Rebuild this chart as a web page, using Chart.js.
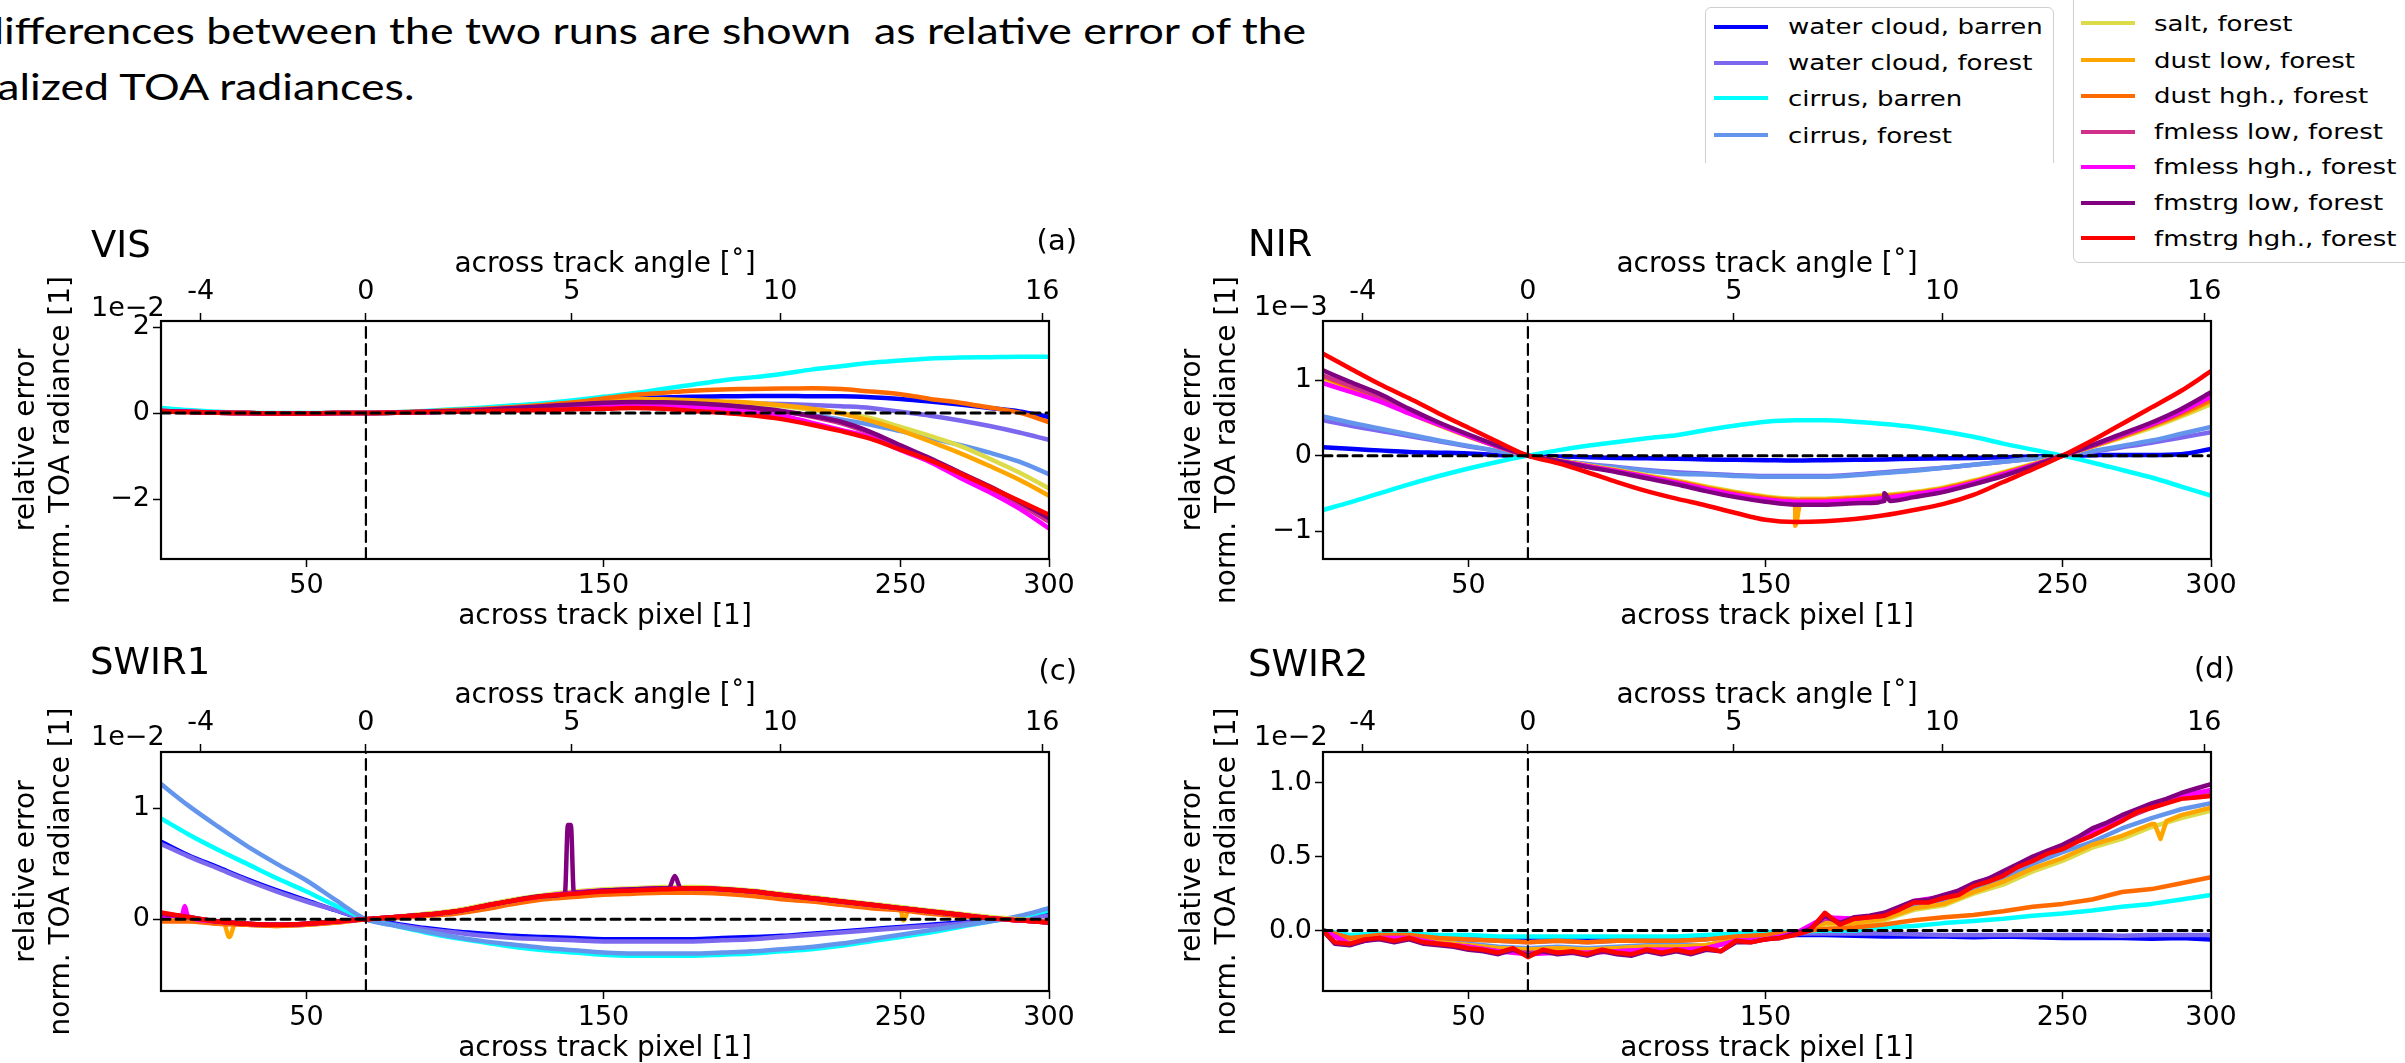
<!DOCTYPE html>
<html><head><meta charset="utf-8">
<script src="https://cdn.jsdelivr.net/npm/chart.js@4.4.1/dist/chart.umd.min.js"></script>
<style>
html,body{margin:0;padding:0;width:2405px;height:1063px;overflow:hidden;background:#fff;}
canvas{position:absolute;}
.t{position:absolute;font-family:"DejaVu Sans";color:#000;white-space:pre;line-height:1;}
.title{position:absolute;font-family:Lato,"Open Sans",sans-serif;font-size:36px;line-height:1;white-space:pre;color:#000;transform-origin:0 0;}
.lgbox{position:absolute;background:#fff;border:1.5px solid #cfcfcf;border-radius:6px;box-sizing:border-box;}
.lgline{position:absolute;height:4px;}
.lgtext{position:absolute;font-family:"DejaVu Sans";font-size:21.5px;line-height:1;white-space:pre;transform-origin:0 50%;transform:scaleX(1.21);color:#000;}
</style></head>
<body>
<script>
// ---------------- data ----------------
const seriesNames = ['water cloud, barren','water cloud, forest','cirrus, barren','cirrus, forest','salt, forest','dust low, forest','dust hgh., forest','fmless low, forest','fmless hgh., forest','fmstrg low, forest','fmstrg hgh., forest'];
const seriesColors = ['#0000ff','#7b68ee','#00ffff','#6495ed','#dcdc4a','#ffa500','#ff6a00','#d0308a','#ff00ff','#800080','#ff0000'];

const pixels = [1,10,20,30,40,50,60,70,80,90,100,110,120,130,140,150,160,170,180,190,200,210,220,230,240,250,260,270,280,290,300];
const pixels5 = [1,5,10,15,20,25,30,35,40,45,50,55,60,65,70,75,80,85,90,95,100,105,110,115,120,125,130,135,140,145,150,155,160,165,170,175,180,185,190,195,200,205,210,215,220,225,230,235,240,245,250,255,260,265,270,275,280,285,290,295,300];
const pixelTicks = [50,150,250,300];
const angleTickPixels = [14.4,70,139.3,209.5,297.7];
const angleTickLabels = ['-4','0','5','10','16'];
const angleZeroPixel = 70;

// VIS (x1e-2)
const wcBarrenA = [0.05,0.03,0.01,0,-0.01,-0.01,0,0,0.01,0.03,0.06,0.09,0.12,0.17,0.22,0.28,0.33,0.36,0.38,0.39,0.4,0.4,0.39,0.39,0.37,0.33,0.27,0.2,0.12,0.04,-0.09];
const wcForestA = [0.05,0.03,0.01,0,-0.01,-0.01,0,0,0.01,0.02,0.04,0.07,0.1,0.14,0.18,0.22,0.24,0.25,0.25,0.24,0.22,0.21,0.19,0.16,0.12,0.03,-0.06,-0.17,-0.3,-0.45,-0.62];
const cirrusBarrenA = [0.12,0.07,0.03,0.01,0,0,0,0,0.02,0.05,0.09,0.13,0.18,0.23,0.3,0.38,0.46,0.56,0.66,0.76,0.83,0.91,1.01,1.09,1.17,1.22,1.27,1.29,1.3,1.31,1.31];
const cirrusForestA = [0.05,0.03,0.01,0,-0.01,-0.01,0,0,0.01,0.02,0.04,0.07,0.1,0.13,0.17,0.2,0.22,0.2,0.15,0.1,0.06,0.02,-0.05,-0.15,-0.27,-0.42,-0.58,-0.74,-0.92,-1.13,-1.42];
const saltA = [0.05,0.03,0.01,0,-0.01,-0.01,0,0,0.01,0.03,0.06,0.09,0.13,0.18,0.24,0.29,0.31,0.3,0.28,0.24,0.2,0.16,0.08,0.0,-0.12,-0.32,-0.53,-0.76,-1.06,-1.38,-1.75];
const dustLowA = [0.05,0.03,0.01,0,-0.01,-0.01,0,0,0.01,0.03,0.06,0.09,0.13,0.18,0.24,0.3,0.33,0.32,0.3,0.27,0.24,0.18,0.1,-0.01,-0.18,-0.4,-0.66,-0.93,-1.23,-1.55,-1.92];
const dustHghA = [0.05,0.03,0.01,0,-0.01,-0.01,0,0,0.02,0.04,0.07,0.1,0.14,0.19,0.25,0.34,0.42,0.47,0.52,0.55,0.56,0.57,0.58,0.56,0.5,0.44,0.33,0.24,0.13,0.01,-0.21];
const fmlessLowA = [0.05,0.03,0.01,0,-0.01,-0.01,0,0,0.01,0.03,0.05,0.08,0.11,0.15,0.19,0.22,0.25,0.24,0.22,0.18,0.12,0.04,-0.08,-0.24,-0.48,-0.78,-1.09,-1.42,-1.76,-2.12,-2.52];
const fmlessHghA = [0.05,0.03,0.01,0,-0.01,-0.01,0,0,0.01,0.02,0.04,0.07,0.1,0.13,0.16,0.19,0.2,0.18,0.14,0.08,0.02,-0.06,-0.22,-0.39,-0.57,-0.86,-1.14,-1.5,-1.84,-2.22,-2.68];
const fmstrgLowA = [0.05,0.03,0.01,0,-0.01,-0.01,0,0,0.01,0.03,0.05,0.08,0.12,0.16,0.2,0.24,0.26,0.25,0.23,0.19,0.13,0.05,-0.06,-0.2,-0.44,-0.75,-1.05,-1.38,-1.7,-2.06,-2.44];
const fmstrgHghA = [0.04,0.02,0.01,0,-0.01,-0.01,0,0,0.01,0.02,0.03,0.05,0.06,0.07,0.09,0.1,0.12,0.1,0.05,0.01,-0.05,-0.14,-0.27,-0.42,-0.6,-0.85,-1.1,-1.4,-1.72,-2.04,-2.36];

// NIR (x1e-3)
const wcBarrenB = [0.11,0.09,0.07,0.05,0.04,0.03,0.01,0,-0.01,-0.02,-0.03,-0.035,-0.04,-0.05,-0.055,-0.06,-0.065,-0.06,-0.055,-0.05,-0.04,-0.035,-0.03,-0.02,-0.01,0,0.005,0.01,0.01,0.02,0.09];
const wcForestB = [0.47,0.4,0.33,0.26,0.19,0.12,0.06,0,-0.06,-0.11,-0.15,-0.19,-0.22,-0.24,-0.26,-0.27,-0.27,-0.27,-0.25,-0.22,-0.19,-0.16,-0.12,-0.08,-0.04,0,0.05,0.11,0.17,0.24,0.31];
const cirrusBarrenB = [-0.72,-0.62,-0.5,-0.38,-0.27,-0.17,-0.08,0,0.07,0.13,0.18,0.23,0.27,0.34,0.4,0.45,0.47,0.47,0.45,0.42,0.38,0.32,0.25,0.16,0.08,0,-0.09,-0.19,-0.29,-0.41,-0.53];
const cirrusForestB = [0.52,0.44,0.36,0.28,0.2,0.13,0.06,0,-0.06,-0.12,-0.16,-0.2,-0.24,-0.25,-0.27,-0.28,-0.28,-0.28,-0.26,-0.23,-0.2,-0.16,-0.12,-0.08,-0.04,0,0.06,0.13,0.2,0.29,0.38];
const saltB = [1.02,0.88,0.73,0.56,0.4,0.25,0.12,0,-0.06,-0.13,-0.19,-0.26,-0.33,-0.41,-0.48,-0.54,-0.57,-0.57,-0.55,-0.52,-0.48,-0.42,-0.33,-0.22,-0.11,0,0.12,0.24,0.37,0.52,0.68];
const dustLowB = [1.04,0.9,0.75,0.57,0.41,0.26,0.12,0,-0.06,-0.13,-0.2,-0.27,-0.34,-0.42,-0.49,-0.55,-0.58,-0.58,-0.56,-0.53,-0.49,-0.43,-0.34,-0.23,-0.12,0,0.12,0.25,0.39,0.54,0.72];
const dustHghB = [1.05,0.91,0.76,0.58,0.41,0.26,0.12,0,-0.07,-0.14,-0.2,-0.28,-0.35,-0.43,-0.5,-0.56,-0.59,-0.59,-0.57,-0.54,-0.5,-0.44,-0.35,-0.24,-0.12,0,0.13,0.26,0.4,0.56,0.74];
const fmlessLowB = [1.06,0.93,0.78,0.6,0.43,0.27,0.13,0,-0.07,-0.14,-0.21,-0.29,-0.36,-0.45,-0.52,-0.58,-0.62,-0.62,-0.6,-0.57,-0.52,-0.46,-0.36,-0.25,-0.13,0,0.13,0.27,0.41,0.58,0.8];
const fmlessHghB = [0.96,0.85,0.72,0.56,0.41,0.26,0.12,0,-0.07,-0.14,-0.21,-0.28,-0.36,-0.44,-0.52,-0.58,-0.61,-0.61,-0.59,-0.56,-0.51,-0.45,-0.36,-0.25,-0.13,0,0.14,0.28,0.42,0.59,0.78];
const fmstrgLowB = [1.13,0.98,0.82,0.62,0.44,0.28,0.13,0,-0.07,-0.15,-0.22,-0.3,-0.38,-0.47,-0.55,-0.61,-0.65,-0.65,-0.63,-0.6,-0.55,-0.48,-0.38,-0.27,-0.14,0,0.14,0.29,0.44,0.62,0.84];
const fmstrgHghB = [1.35,1.16,0.95,0.76,0.56,0.37,0.18,0,-0.1,-0.22,-0.35,-0.47,-0.57,-0.66,-0.76,-0.85,-0.88,-0.87,-0.84,-0.79,-0.72,-0.64,-0.52,-0.35,-0.18,0,0.2,0.42,0.64,0.86,1.12];
const dustLowSpikeB = [[158,-0.58],[160,-0.93],[162,-0.58]];
const fmstrgLowSpikeB = [[188,-0.62],[190,-0.5],[192,-0.6]];

// SWIR1 (x1e-2)
const wcBarrenC = [0.7,0.58,0.47,0.36,0.26,0.17,0.08,0,-0.04,-0.08,-0.11,-0.13,-0.15,-0.16,-0.17,-0.18,-0.18,-0.18,-0.18,-0.17,-0.16,-0.15,-0.13,-0.11,-0.09,-0.07,-0.05,-0.03,-0.01,0.01,0.04];
const wcForestC = [0.68,0.57,0.46,0.35,0.25,0.16,0.08,0,-0.05,-0.09,-0.12,-0.15,-0.17,-0.18,-0.19,-0.2,-0.2,-0.2,-0.2,-0.19,-0.18,-0.16,-0.14,-0.12,-0.1,-0.08,-0.06,-0.04,-0.01,0.01,0.03];
const cirrusBarrenC = [0.91,0.77,0.63,0.5,0.37,0.25,0.12,0,-0.06,-0.12,-0.17,-0.21,-0.25,-0.28,-0.3,-0.32,-0.33,-0.33,-0.33,-0.32,-0.31,-0.29,-0.27,-0.24,-0.2,-0.16,-0.12,-0.07,-0.02,0.02,0.08];
const cirrusForestC = [1.22,1.03,0.84,0.66,0.5,0.35,0.17,0,-0.06,-0.11,-0.16,-0.2,-0.23,-0.26,-0.28,-0.3,-0.31,-0.31,-0.31,-0.3,-0.29,-0.27,-0.25,-0.22,-0.18,-0.14,-0.1,-0.06,-0.02,0.03,0.1];
const saltC = [0.05,0.02,-0.02,-0.04,-0.05,-0.04,-0.02,0,0.02,0.05,0.08,0.13,0.18,0.22,0.25,0.27,0.28,0.29,0.29,0.28,0.26,0.23,0.2,0.17,0.14,0.11,0.08,0.05,0.02,0,-0.02];
const dustLowC = [0.0,-0.01,-0.03,-0.05,-0.06,-0.05,-0.03,0,0.02,0.03,0.06,0.1,0.15,0.19,0.21,0.23,0.24,0.25,0.25,0.24,0.22,0.19,0.17,0.14,0.11,0.09,0.06,0.03,0.01,-0.01,-0.03];
const dustHghC = [-0.02,-0.02,-0.04,-0.05,-0.06,-0.05,-0.03,0,0.01,0.03,0.05,0.09,0.14,0.18,0.2,0.22,0.23,0.24,0.24,0.23,0.21,0.18,0.16,0.13,0.1,0.08,0.05,0.03,0.01,-0.01,-0.03];
const fmlessLowC = [0.05,0.02,-0.02,-0.04,-0.05,-0.04,-0.02,0,0.02,0.04,0.07,0.12,0.17,0.21,0.24,0.26,0.27,0.28,0.28,0.27,0.25,0.22,0.19,0.16,0.13,0.1,0.07,0.04,0.01,-0.01,-0.03];
const fmlessHghC = [0.03,0.03,-0.02,-0.04,-0.05,-0.04,-0.02,0,0.02,0.04,0.07,0.12,0.17,0.21,0.24,0.26,0.27,0.28,0.28,0.27,0.25,0.22,0.19,0.16,0.13,0.1,0.07,0.04,0.01,-0.01,-0.03];
const fmstrgLowC = [0.05,0.02,-0.02,-0.04,-0.05,-0.04,-0.02,0,0.02,0.04,0.07,0.12,0.17,0.21,0.24,0.26,0.27,0.28,0.28,0.27,0.25,0.22,0.19,0.16,0.13,0.1,0.07,0.04,0.01,-0.01,-0.03];
const fmstrgHghC = [0.06,0.02,-0.02,-0.04,-0.05,-0.04,-0.02,0,0.02,0.04,0.07,0.12,0.17,0.21,0.23,0.25,0.26,0.27,0.28,0.27,0.25,0.22,0.19,0.16,0.13,0.1,0.07,0.04,0.01,-0.01,-0.03];
const fmlessHghSpikeC = [[8,0.03],[9,0.12]];
const dustLowSpikeC = [[22,-0.03],[24,-0.16],[26,-0.04],[249,0.1],[251,-0.01],[253,0.09]];
const fmstrgLowSpikeC = [[137,0.23],[138,0.85],[139,0.85],[140.5,0.24],[172,0.28],[174,0.39],[176,0.28]];

// SWIR2 (x1e-2)
const wcBarrenD = [0,-0.04,-0.03,-0.03,-0.04,-0.05,-0.05,-0.05,-0.05,-0.05,-0.05,-0.05,-0.05,-0.04,-0.04,-0.03,-0.03,-0.03,-0.035,-0.04,-0.04,-0.04,-0.045,-0.04,-0.045,-0.05,-0.05,-0.05,-0.055,-0.05,-0.06];
const wcForestD = [0,-0.04,-0.03,-0.03,-0.05,-0.06,-0.07,-0.08,-0.07,-0.08,-0.07,-0.07,-0.07,-0.06,-0.04,-0.03,-0.02,-0.02,-0.02,-0.02,-0.025,-0.03,-0.03,-0.03,-0.03,-0.03,-0.03,-0.035,-0.03,-0.03,-0.03];
const cirrusBarrenD = [0,-0.03,-0.02,-0.02,-0.03,-0.03,-0.04,-0.04,-0.04,-0.04,-0.04,-0.04,-0.04,-0.03,-0.02,-0.01,-0.01,0,0,0.02,0.03,0.05,0.065,0.08,0.1,0.115,0.135,0.16,0.18,0.21,0.24];
const cirrusForestD = [0,-0.07,-0.04,-0.04,-0.07,-0.09,-0.11,-0.12,-0.11,-0.12,-0.11,-0.1,-0.1,-0.1,-0.06,-0.05,-0.02,0.06,0.06,0.09,0.17,0.2,0.28,0.35,0.45,0.53,0.6,0.69,0.76,0.82,0.86];
const saltD = [0,-0.07,-0.04,-0.04,-0.08,-0.1,-0.12,-0.13,-0.12,-0.13,-0.12,-0.11,-0.11,-0.1,-0.06,-0.05,-0.02,0.04,0.04,0.07,0.14,0.17,0.25,0.31,0.4,0.47,0.56,0.62,0.7,0.76,0.81];
const dustLowD = [0,-0.07,-0.04,-0.04,-0.08,-0.1,-0.12,-0.13,-0.12,-0.13,-0.12,-0.11,-0.11,-0.1,-0.06,-0.05,-0.02,0.05,0.05,0.08,0.15,0.18,0.26,0.33,0.42,0.49,0.58,0.64,0.72,0.78,0.83];
const dustHghD = [0,-0.05,-0.03,-0.03,-0.05,-0.06,-0.07,-0.08,-0.07,-0.08,-0.07,-0.07,-0.07,-0.06,-0.04,-0.03,-0.01,0.01,0.02,0.04,0.07,0.09,0.105,0.13,0.16,0.18,0.21,0.26,0.28,0.32,0.36];
const fmlessLowD = [0,-0.09,-0.05,-0.05,-0.09,-0.11,-0.14,-0.15,-0.15,-0.15,-0.14,-0.13,-0.13,-0.12,-0.07,-0.06,-0.02,0.08,0.08,0.1,0.19,0.22,0.3,0.38,0.48,0.56,0.66,0.75,0.83,0.9,0.94];
const fmlessHghD = [0,-0.09,-0.05,-0.05,-0.09,-0.11,-0.14,-0.16,-0.15,-0.15,-0.14,-0.13,-0.13,-0.12,-0.07,-0.06,-0.02,0.09,0.08,0.11,0.2,0.23,0.31,0.39,0.49,0.57,0.67,0.77,0.84,0.91,0.95];
const fmstrgLowD = [0,-0.09,-0.1,-0.07,-0.06,-0.08,-0.06,-0.09,-0.1,-0.11,-0.13,-0.14,-0.16,-0.13,-0.17,-0.14,-0.16,-0.15,-0.17,-0.14,-0.16,-0.17,-0.14,-0.16,-0.14,-0.16,-0.13,-0.14,-0.08,-0.08,-0.06,-0.05,-0.02,0.01,0.1,0.05,0.09,0.1,0.12,0.16,0.2,0.21,0.24,0.27,0.32,0.35,0.4,0.45,0.5,0.54,0.58,0.63,0.69,0.73,0.78,0.82,0.86,0.89,0.93,0.96,0.99];
const fmstrgHghD = [0,-0.08,-0.09,-0.06,-0.05,-0.07,-0.05,-0.08,-0.09,-0.1,-0.12,-0.13,-0.15,-0.12,-0.18,-0.13,-0.15,-0.14,-0.16,-0.13,-0.15,-0.16,-0.13,-0.15,-0.13,-0.15,-0.12,-0.14,-0.07,-0.08,-0.06,-0.05,-0.03,0.0,0.12,0.04,0.08,0.09,0.1,0.14,0.19,0.19,0.22,0.24,0.3,0.33,0.37,0.43,0.47,0.52,0.55,0.6,0.64,0.69,0.74,0.8,0.83,0.86,0.89,0.9,0.91];
const dustLowSpikeD = [[281,0.72],[283,0.62],[285,0.74]];

// ---------------- helpers ----------------
function pts(xs, ys, extra){
  const a = xs.map((x,i)=>({x:x, y:ys[i]}));
  if (extra) extra.forEach(p=>a.push({x:p[0], y:p[1]}));
  a.sort((p,q)=>p.x-q.x);
  return a;
}
const F = 'DejaVu Sans';
const framePlugin = { id:'frame', afterDatasetsDraw(chart){ const c=chart.ctx, a=chart.chartArea; c.save(); c.strokeStyle='#000'; c.lineWidth=2.2; c.strokeRect(a.left,a.top,a.right-a.left,a.bottom-a.top); c.restore(); } };

function buildPanel(p){
  const cv = document.createElement('canvas');
  cv.width = p.w; cv.height = p.h;
  cv.style.left = p.left+'px'; cv.style.top = p.top+'px';
  cv.style.width = p.w+'px'; cv.style.height = p.h+'px';
  document.body.appendChild(cv);
  const ds = [];
  ds.push({data:[{x:1,y:0},{x:300,y:0}], borderColor:'#000', borderWidth:3, borderDash:[9,6], pointRadius:0});
  ds.push({data:[{x:angleZeroPixel,y:p.yMin},{x:angleZeroPixel,y:p.yMax}], borderColor:'#000', borderWidth:2.2, borderDash:[11,6], pointRadius:0});
  for (let i = p.series.length-1; i >= 0; i--) {
    const s = p.series[i];
    ds.push({data: pts(s.x, s.y, s.extra), borderColor: seriesColors[i], borderWidth:4.5, pointRadius:0,
      cubicInterpolationMode: p.smooth ? 'monotone' : 'default', tension: 0});
  }
  const tickFont = {family:F, size:27};
  const gridCfg = {display:true, drawOnChartArea:false, drawTicks:true, tickLength:8, tickWidth:1.5, tickColor:'#000'};
  new Chart(cv, {
    type:'line',
    data:{datasets:ds},
    options:{
      responsive:false, animation:false, devicePixelRatio:1,
      layout:{padding:{left:0,right:p.padR,top:0,bottom:0}},
      plugins:{legend:{display:false}, tooltip:{enabled:false}},
      elements:{line:{borderCapStyle:'round', borderJoinStyle:'round'}},
      scales:{
        x:{type:'linear', position:'bottom', min:1, max:300,
           afterFit:s=>{s.height=76;},
           afterBuildTicks:s=>{s.ticks=pixelTicks.map(v=>({value:v}));},
           ticks:{autoSkip:false, maxRotation:0, font:tickFont, color:'#000', padding:3, callback:v=>String(v)},
           grid:gridCfg, border:{display:false},
           title:{display:true, text:'across track pixel [1]', font:{family:F,size:28}, color:'#000', padding:{top:0,bottom:1}}},
        x2:{type:'linear', axis:'x', position:'top', min:1, max:300,
           afterFit:s=>{s.height=76;},
           afterBuildTicks:s=>{s.ticks=angleTickPixels.map(v=>({value:v}));},
           ticks:{autoSkip:false, maxRotation:0, font:tickFont, color:'#000', padding:5, callback:(v,i)=>angleTickLabels[i]},
           grid:gridCfg, border:{display:false},
           title:{display:true, text:'across track angle [˚]', font:{family:F,size:28}, color:'#000', padding:{top:3,bottom:0}}},
        y:{type:'linear', position:'left', min:p.yMin, max:p.yMax,
           afterFit:s=>{s.width=p.yw;},
           afterBuildTicks:s=>{s.ticks=p.yTicks.map(v=>({value:v}));},
           ticks:{autoSkip:false, font:tickFont, color:'#000', padding:3, callback:(v,i)=>p.yLabels[i]},
           grid:gridCfg, border:{display:false},
           title:{display:true, text:['relative error','norm. TOA radiance [1]'], font:{family:F,size:28,lineHeight:1.25}, color:'#000', padding:{top:p.yTitlePad,bottom:0}}}
      }
    },
    plugins:[framePlugin]
  });
}

function ser(xs, arrs, extras){ return arrs.map((a,i)=>({x:xs, y:a, extra: extras ? extras[i] : null})); }

const panels = [
  {left:0, top:245, w:1100, h:390, yw:161, padR:51, yTitlePad:9.5, yMin:-3.39, yMax:2.14, yTicks:[-2,0,2], yLabels:['−2','0','2'], smooth:true,
   series: ser(pixels,[wcBarrenA,wcForestA,cirrusBarrenA,cirrusForestA,saltA,dustLowA,dustHghA,fmlessLowA,fmlessHghA,fmstrgLowA,fmstrgHghA])},
  {left:1100, top:245, w:1200, h:390, yw:223, padR:89, yTitlePad:75.5, yMin:-1.37, yMax:1.785, yTicks:[-1,0,1], yLabels:['−1','0','1'], smooth:true,
   series: ser(pixels,[wcBarrenB,wcForestB,cirrusBarrenB,cirrusForestB,saltB,dustLowB,dustHghB,fmlessLowB,fmlessHghB,fmstrgLowB,fmstrgHghB],
     [null,null,null,null,null,dustLowSpikeB,null,null,null,fmstrgLowSpikeB,null])},
  {left:0, top:676, w:1100, h:391, yw:161, padR:51, yTitlePad:9.5, yMin:-0.648, yMax:1.51, yTicks:[0,1], yLabels:['0','1'], smooth:true,
   series: ser(pixels,[wcBarrenC,wcForestC,cirrusBarrenC,cirrusForestC,saltC,dustLowC,dustHghC,fmlessLowC,fmlessHghC,fmstrgLowC,fmstrgHghC],
     [null,null,null,null,null,dustLowSpikeC,null,null,fmlessHghSpikeC,fmstrgLowSpikeC,null])},
  {left:1100, top:676, w:1200, h:391, yw:223, padR:89, yTitlePad:75.5, yMin:-0.409, yMax:1.207, yTicks:[0,0.5,1], yLabels:['0.0','0.5','1.0'], smooth:false,
   series: (function(){ const s = ser(pixels,[wcBarrenD,wcForestD,cirrusBarrenD,cirrusForestD,saltD,dustLowD,dustHghD,fmlessLowD,fmlessHghD,fmstrgLowD,fmstrgHghD],
     [null,null,null,null,null,dustLowSpikeD,null,null,null,null,null]); s[9].x = pixels5; s[10].x = pixels5; return s; })()}
];
panels.forEach(buildPanel);

// ---------------- overlay texts ----------------
function txt(s, x, cy, size, opts){
  const d = document.createElement('div'); d.className='t'; d.textContent=s;
  d.style.fontSize=size+'px'; d.style.top=(cy-0.48*size)+'px';
  if (opts && opts.right) d.style.right=(2405-x)+'px'; else d.style.left=x+'px';
  document.body.appendChild(d); return d;
}
txt('VIS',91,244,37); txt('NIR',1248,243,37); txt('SWIR1',90,661,37); txt('SWIR2',1248,663,37);
txt('(a)',1077,240,29,{right:true}); txt('(b)',2237,240,29,{right:true});
txt('(c)',1077,670,29,{right:true}); txt('(d)',2235,668,29,{right:true});
txt('1e−2',91,306,27); txt('1e−3',1254,305,27); txt('1e−2',91,735,27); txt('1e−2',1254,735,27);

// slide text
(function(){
  const l1 = 'The differences between the two runs are shown  as relative error of the';
  const v1 = 'ifferences between the two runs are shown  as relative error of the';
  const l2 = 'normalized TOA radiances.';
  const c = document.createElement('canvas').getContext('2d');
  c.font = '36px Lato';
  const s = 1304 / c.measureText(v1).width;
  const mk = (t, endX, top) => { const d=document.createElement('div'); d.className='title'; d.textContent=t;
    d.style.left=(endX - c.measureText(t).width*s)+'px'; d.style.top=top+'px'; d.style.transform='scaleX('+s+')'; document.body.appendChild(d); };
  mk(l1, 1308, 12); mk(l2, 417, 68);
})();

// legend
(function(){
  const wrap = document.createElement('div');
  wrap.style.cssText='position:absolute;left:1700px;top:0;width:370px;height:163px;overflow:hidden;';
  document.body.appendChild(wrap);
  const b1 = document.createElement('div'); b1.className='lgbox';
  b1.style.cssText+='left:5px;top:7px;width:349px;height:220px;'; wrap.appendChild(b1);
  const leftItems = [0,1,2,3,4]; const leftY = [26.7,62.7,98.3,135,171];
  leftItems.forEach((k,i)=>{
    const ln=document.createElement('div'); ln.className='lgline'; ln.style.cssText+='left:14px;width:54px;top:'+(leftY[i]-2)+'px;background:'+seriesColors[k]+';'; wrap.appendChild(ln);
    const tx=document.createElement('div'); tx.className='lgtext'; tx.textContent=seriesNames[k]; tx.style.left='88px'; tx.style.top=(leftY[i]-10.3)+'px'; wrap.appendChild(tx);
  });
  const b2 = document.createElement('div'); b2.className='lgbox';
  b2.style.cssText+='left:2073px;top:-10px;width:400px;height:273px;'; document.body.appendChild(b2);
  const rightItems=[4,5,6,7,8,9,10]; const rightY=[23.3,60,95.7,131.7,166.7,202.7,238.3];
  rightItems.forEach((k,i)=>{
    const ln=document.createElement('div'); ln.className='lgline'; ln.style.cssText+='left:2081px;width:54px;top:'+(rightY[i]-2)+'px;background:'+seriesColors[k]+';'; document.body.appendChild(ln);
    const tx=document.createElement('div'); tx.className='lgtext'; tx.textContent=seriesNames[k]; tx.style.left='2154px'; tx.style.top=(rightY[i]-10.3)+'px'; document.body.appendChild(tx);
  });
})();
</script>
</body></html>
